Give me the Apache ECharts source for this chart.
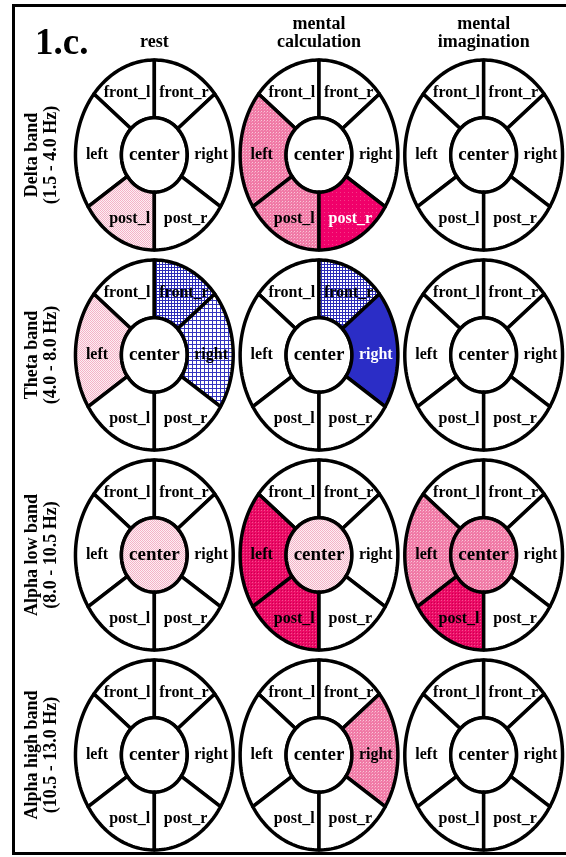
<!DOCTYPE html>
<html>
<head>
<meta charset="utf-8">
<script src="https://cdn.jsdelivr.net/npm/echarts@6/dist/echarts.min.js"></script>
<style>
  html, body { margin: 0; padding: 0; background: #fff; }
  #main { width: 566px; height: 857px; }
</style>
</head>
<body>
<div id="main"></div>
<script>
// Task conditions (columns) and EEG frequency bands (rows)
const conditions = ['rest', 'mental\ncalculation', 'mental\nimagination'];
const bands = [
  'Delta band\n(1.5 - 4.0 Hz)',
  'Theta band\n(4.0 - 8.0 Hz)',
  'Alpha low band\n(8.0 - 10.5 Hz)',
  'Alpha high band\n(10.5 - 13.0 Hz)'
];
// Scalp regions drawn in each head map
const regions = ['front_l', 'front_r', 'left', 'center', 'right', 'post_l', 'post_r'];

// Level per region (same order as `regions`), one row per condition.
// Pink = increase (1 weak, 2 medium, 3 strong, 4 strongest), blue = decrease (-1 weak, -2 medium, -3 strong).
const deltaLevels = [
  [0, 0, 0, 0, 0, 1, 0],
  [0, 0, 2, 0, 0, 2, 4],
  [0, 0, 0, 0, 0, 0, 0]
];
const thetaLevels = [
  [0, -2, 1, 0, -1, 0, 0],
  [0, -2, 0, 0, -3, 0, 0],
  [0, 0, 0, 0, 0, 0, 0]
];
const alphaLowLevels = [
  [0, 0, 0, 1, 0, 0, 0],
  [0, 0, 3, 1, 0, 3, 0],
  [0, 0, 2, 2, 0, 3, 0]
];
const alphaHighLevels = [
  [0, 0, 0, 0, 0, 0, 0],
  [0, 0, 0, 0, 2, 0, 0],
  [0, 0, 0, 0, 0, 0, 0]
];
const bandLevels = [deltaLevels, thetaLevels, alphaLowLevels, alphaHighLevels];

// ---- fill textures ----
function pattern(size, base, dots) {
  const cv = document.createElement('canvas');
  cv.width = size; cv.height = size;
  const ctx = cv.getContext('2d');
  ctx.fillStyle = base;
  ctx.fillRect(0, 0, size, size);
  dots.forEach(function (d) {
    ctx.fillStyle = d[2];
    ctx.fillRect(d[0], d[1], 1, 1);
  });
  return { image: cv, repeat: 'repeat' };
}
function gridPattern(size, line) {
  const cv = document.createElement('canvas');
  cv.width = size; cv.height = size;
  const ctx = cv.getContext('2d');
  ctx.fillStyle = '#ffffff';
  ctx.fillRect(0, 0, size, size);
  ctx.fillStyle = line;
  ctx.fillRect(0, 0, size, 1);
  ctx.fillRect(0, 0, 1, size);
  return { image: cv, repeat: 'repeat' };
}
const FILLS = {
  '0': '#ffffff',
  '1': pattern(2, '#fdeef3', [[0, 0, '#f4b2c7'], [1, 1, '#f4b2c7']]),
  '2': pattern(3, '#f07aa6', [[0, 0, '#fac6d8'], [2, 1, '#f59cbd']]),
  '3': pattern(3, '#ec0a66', [[0, 0, '#f4508e'], [2, 2, '#c8004f']]),
  '4': pattern(4, '#f0006a', [[0, 0, '#f53c88']]),
  '-1': gridPattern(4, '#3434c0'),
  '-2': gridPattern(3, '#2c2cb8'),
  '-3': '#2b2dc6'
};
function labelColor(level) {
  return (level === 4 || level === -3) ? '#ffffff' : '#000000';
}

// ---- head map geometry (fractions of one grid cell) ----
const OUTER = [0.479, 0.475];
const INNER = [0.2, 0.186];
// Each sector runs clockwise between two dividers, each given as [inner angle, outer angle] in degrees
const SECTOR_EDGES = {
  front_r: [[90, 90], [45, 40]],
  right:   [[45, 40], [-35, -33]],
  post_r:  [[-35, -33], [-90, -90]],
  post_l:  [[-90, -90], [-145, -147]],
  left:    [[-145, -147], [-225, -220]],
  front_l: [[-225, -220], [-270, -270]]
};
const LABEL_OFFSET = {
  front_l: [-0.165, -0.31],
  front_r: [0.18, -0.31],
  left: [-0.348, 0],
  center: [0, 0],
  right: [0.345, 0],
  post_l: [-0.15, 0.318],
  post_r: [0.19, 0.318]
};

function ellipsePoint(cx, cy, rx, ry, deg) {
  const t = deg * Math.PI / 180;
  return [cx + rx * Math.cos(t), cy - ry * Math.sin(t)];
}

function renderRegion(params, api) {
  const pos = api.coord([api.value(0), api.value(1)]);
  const size = api.size([1, 1]);
  const name = regions[api.value(2)];
  const level = api.value(3);
  const cx = pos[0], cy = pos[1];
  const orx = OUTER[0] * size[0], ory = OUTER[1] * size[1];
  const irx = INNER[0] * size[0], iry = INNER[1] * size[1];
  const points = [];
  if (name === 'center') {
    for (let i = 0; i < 90; i++) points.push(ellipsePoint(cx, cy, irx, iry, i * 4));
  } else {
    const s = SECTOR_EDGES[name][0], e = SECTOR_EDGES[name][1];
    const N = 32;
    for (let i = 0; i <= N; i++) points.push(ellipsePoint(cx, cy, orx, ory, s[1] + (e[1] - s[1]) * i / N));
    for (let i = 0; i <= N; i++) points.push(ellipsePoint(cx, cy, irx, iry, e[0] + (s[0] - e[0]) * i / N));
  }
  const off = LABEL_OFFSET[name];
  return {
    type: 'group',
    children: [
      {
        type: 'polygon',
        shape: { points: points },
        style: { fill: FILLS[String(level)], stroke: '#000', lineWidth: 3.5, lineJoin: 'round' }
      },
      {
        type: 'text',
        x: cx + off[0] * size[0],
        y: cy + off[1] * size[1],
        style: {
          text: name,
          fill: labelColor(level),
          fontFamily: 'Liberation Serif',
          fontWeight: 'bold',
          fontSize: name === 'center' ? 19 : 16,
          align: 'center',
          verticalAlign: 'middle'
        }
      }
    ]
  };
}

const regionData = [];
bandLevels.forEach(function (levels, b) {
  levels.forEach(function (row, c) {
    row.forEach(function (lv, r) {
      regionData.push([c, b, r, lv]);
    });
  });
});

const serif = 'Liberation Serif';
const chart = echarts.init(document.getElementById('main'), null, { renderer: 'canvas' });
chart.setOption({
  backgroundColor: '#ffffff',
  animation: false,
  title: {
    text: '1.c.',
    left: 30,
    top: 21,
    textStyle: { fontFamily: serif, fontWeight: 'bold', fontSize: 37, color: '#000' }
  },
  graphic: [{
    type: 'rect',
    shape: { x: 13.5, y: 5.5, width: 620, height: 848 },
    style: { fill: 'none', stroke: '#000', lineWidth: 3 },
    z: 100
  }],
  grid: { left: 72, top: 55, width: 495, height: 800 },
  xAxis: {
    type: 'category',
    data: conditions,
    position: 'top',
    axisLine: { show: false },
    axisTick: { show: false },
    splitLine: { show: false },
    axisLabel: {
      interval: 0,
      margin: 4,
      color: '#000',
      fontFamily: serif,
      fontWeight: 'bold',
      fontSize: 18,
      lineHeight: 18
    }
  },
  yAxis: {
    type: 'category',
    data: bands,
    inverse: true,
    axisLine: { show: false },
    axisTick: { show: false },
    splitLine: { show: false },
    axisLabel: {
      interval: 0,
      rotate: 90,
      margin: 11,
      color: '#000',
      fontFamily: serif,
      fontWeight: 'bold',
      fontSize: 18,
      lineHeight: 19
    }
  },
  series: [{
    type: 'custom',
    clip: false,
    renderItem: renderRegion,
    data: regionData
  }]
});
</script>
</body>
</html>
